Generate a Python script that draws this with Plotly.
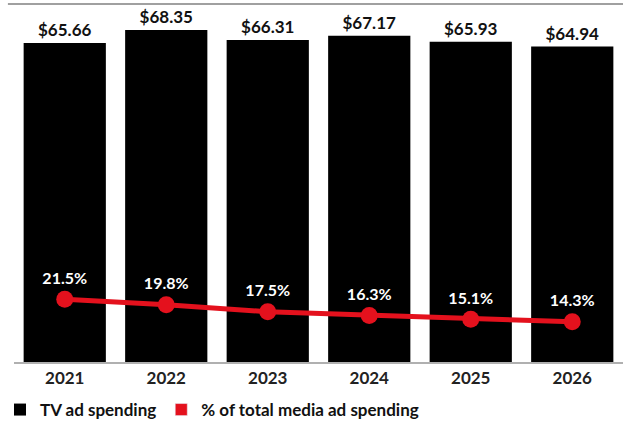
import plotly.graph_objects as go

years = ["2021", "2022", "2023", "2024", "2025", "2026"]
tv_spend = [65.66, 68.35, 66.31, 67.17, 65.93, 64.94]
pct_total = [21.5, 19.8, 17.5, 16.3, 15.1, 14.3]
tv_labels = ["$65.66", "$68.35", "$66.31", "$67.17", "$65.93", "$64.94"]
pct_labels = ["21.5%", "19.8%", "17.5%", "16.3%", "15.1%", "14.3%"]

RED = "#e4111d"
FONT = "Lato"

fig = go.Figure()
fig.add_trace(go.Bar(
    x=years, y=tv_spend, name="TV ad spending",
    marker=dict(color="#000000", line=dict(width=0)),
    text=tv_labels, textposition="outside", cliponaxis=False,
    textfont=dict(color="#111111", size=17, family=FONT, weight="bold"),
    width=0.81,
))
fig.add_trace(go.Scatter(
    x=years, y=pct_total, yaxis="y2", mode="lines+markers+text",
    line=dict(color=RED, width=5), marker=dict(color=RED, size=17),
    text=pct_labels, textposition="top center",
    textfont=dict(color="#ffffff", size=16, family=FONT, weight="bold"),
    showlegend=False, cliponaxis=False,
))
# legend proxy with square symbol
fig.add_trace(go.Bar(
    x=[years[0]], y=[None], name="% of total media ad spending",
    marker=dict(color=RED),
))

fig.update_layout(
    width=623, height=424,
    margin=dict(l=14, r=0, t=4, b=62, autoexpand=False),
    plot_bgcolor="white", paper_bgcolor="white",
    barmode="overlay",
    font=dict(family=FONT, color="#222222"),
    xaxis=dict(
        type="category", showgrid=False, showline=True,
        linecolor="#b0b0b0", linewidth=2, automargin=False,
        tickfont=dict(size=17, family=FONT, color="#222222", weight="bold"),
        ticks="", ticklen=0,
    ),
    yaxis=dict(range=[0, 73.7], visible=False, showgrid=False),
    yaxis2=dict(range=[1.35, 116.5], overlaying="y", visible=False, showgrid=False),
    legend=dict(
        orientation="h", x=-0.01, xanchor="left", xref="container",
        y=0.033, yanchor="middle", yref="container",
        font=dict(size=17, family=FONT, color="#111111", weight="bold"),
        itemwidth=30, traceorder="normal",
    ),
    showlegend=True,
)
fig.add_shape(type="line", xref="paper", yref="paper", x0=-0.01, x1=1, y0=1, y1=1,
              line=dict(color="#a0a0a0", width=2))

fig.write_html("out.html")
